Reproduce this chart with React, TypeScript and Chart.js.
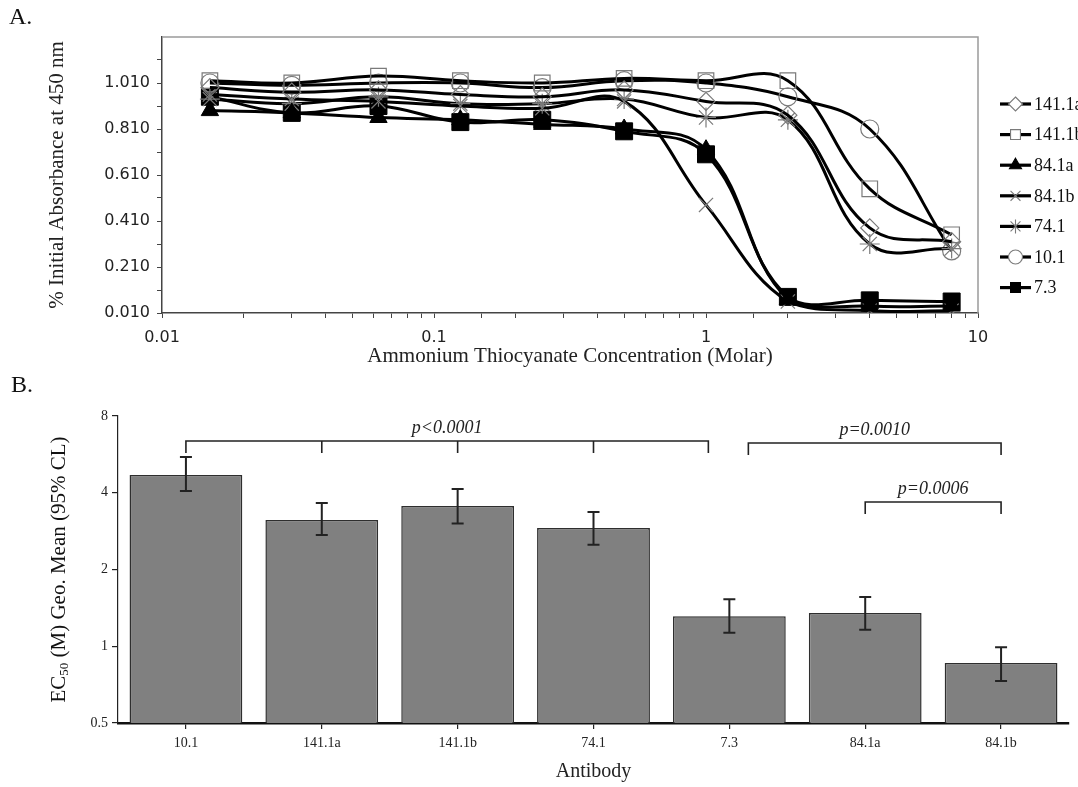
import React, { useEffect, useRef } from 'react';
import { Chart, registerables } from 'chart.js';

Chart.register(...registerables);

// ---------- Panel A data ----------
const concentrations = [0.015, 0.03, 0.0625, 0.125, 0.25, 0.5, 1, 2, 4, 8];
const seriesNames = ['141.1a', '141.1b', '84.1a', '84.1b', '74.1', '10.1', '7.3'];
const s141_1a = [0.99, 0.97, 0.98, 0.96, 0.95, 0.98, 0.93, 0.87, 0.38, 0.32];
const s141_1b = [1.02, 1.01, 1.04, 1.02, 1.01, 1.03, 1.02, 1.02, 0.55, 0.35];
const s84_1a = [0.89, 0.88, 0.86, 0.85, 0.83, 0.81, 0.72, 0.07, 0.04, 0.04];
const s84_1b = [0.96, 0.94, 0.93, 0.91, 0.9, 0.93, 0.48, 0.06, 0.02, 0.02];
const s74_1 = [0.94, 0.92, 0.95, 0.92, 0.92, 0.94, 0.86, 0.85, 0.31, 0.29];
const s10_1 = [1.01, 1.0, 1.01, 1.01, 0.99, 1.02, 1.01, 0.95, 0.81, 0.28];
const s7_3 = [0.95, 0.88, 0.91, 0.84, 0.85, 0.8, 0.7, 0.08, 0.065, 0.06];
const seriesValues = [s141_1a, s141_1b, s84_1a, s84_1b, s74_1, s10_1, s7_3];
const yTicksA = [0.01, 0.11, 0.21, 0.31, 0.41, 0.51, 0.61, 0.71, 0.81, 0.91, 1.01, 1.11];

// ---------- Panel B data ----------
const antibodies = ['10.1', '141.1a', '141.1b', '74.1', '7.3', '84.1a', '84.1b'];
const ec50 = [4.7, 3.13, 3.55, 2.91, 1.31, 1.35, 0.86];
const ciLow = [4.06, 2.73, 3.03, 2.5, 1.13, 1.16, 0.73];
const ciHigh = [5.53, 3.65, 4.14, 3.36, 1.53, 1.56, 0.99];
const yTicksB = [0.5, 1, 2, 4, 8];
const bracketLabels = ['p<0.0001', 'p=0.0010', 'p=0.0006'];
const bracketFrom = ['10.1', '7.3', '84.1a'];
const bracketTo = ['7.3', '84.1b', '84.1b'];
const bracketMids = [['141.1a', '141.1b', '74.1'], [], []];

// ---------- styles ----------
const markerStyles = ['rectRot', 'rect', 'triangle', 'crossRot', 'star', 'circle', 'rect'];
const markerRadius = [9, 11, 10, 10, 10, 9, 12];
const markerFilled = [false, false, true, false, false, false, true];
const SERIF = "'Liberation Serif', 'Times New Roman', serif";
const SANS = "'DejaVu Sans', Verdana, sans-serif";

function drawMarker(ctx: CanvasRenderingContext2D, style: string, x: number, y: number, r: number, fill: string, stroke: string, lw: number) {
  ctx.save();
  ctx.beginPath();
  ctx.lineWidth = lw;
  ctx.strokeStyle = stroke;
  ctx.fillStyle = fill;
  let closed = true;
  const d = r * Math.SQRT1_2;
  switch (style) {
    case 'circle':
      ctx.arc(x, y, r, 0, Math.PI * 2);
      break;
    case 'rect':
      ctx.rect(x - d, y - d, 2 * d, 2 * d);
      break;
    case 'rectRot':
      ctx.moveTo(x, y - r);
      ctx.lineTo(x + r, y);
      ctx.lineTo(x, y + r);
      ctx.lineTo(x - r, y);
      ctx.closePath();
      break;
    case 'triangle':
      ctx.moveTo(x, y - r);
      ctx.lineTo(x + r * 0.866, y + r * 0.5);
      ctx.lineTo(x - r * 0.866, y + r * 0.5);
      ctx.closePath();
      break;
    case 'crossRot':
      closed = false;
      ctx.moveTo(x - d, y - d);
      ctx.lineTo(x + d, y + d);
      ctx.moveTo(x + d, y - d);
      ctx.lineTo(x - d, y + d);
      break;
    case 'star':
      closed = false;
      ctx.moveTo(x - d, y - d);
      ctx.lineTo(x + d, y + d);
      ctx.moveTo(x + d, y - d);
      ctx.lineTo(x - d, y + d);
      ctx.moveTo(x, y - r);
      ctx.lineTo(x, y + r);
      break;
  }
  if (closed) ctx.fill();
  ctx.stroke();
  ctx.restore();
}

const panelAPlugin = {
  id: 'panelAExtras',
  afterDraw(chart: any) {
    const { ctx, chartArea } = chart;
    const { left, top, right, bottom } = chartArea;
    ctx.save();
    // gray frame top and right
    ctx.strokeStyle = '#9a9a9a';
    ctx.lineWidth = 1.5;
    ctx.beginPath();
    ctx.moveTo(left, top);
    ctx.lineTo(right, top);
    ctx.lineTo(right, bottom);
    ctx.stroke();
    // panel label
    ctx.fillStyle = '#111';
    ctx.font = `24px ${SERIF}`;
    ctx.textBaseline = 'middle';
    ctx.textAlign = 'left';
    ctx.fillText('A.', 9, 18);
    // legend
    const lx0 = right + 22;
    const lx1 = right + 53;
    ctx.font = `18px ${SERIF}`;
    seriesNames.forEach((name, i) => {
      const y = 104 + i * 30.6;
      ctx.strokeStyle = '#000';
      ctx.lineWidth = 3.2;
      ctx.beginPath();
      ctx.moveTo(lx0, y);
      ctx.lineTo(lx1, y);
      ctx.stroke();
      const filled = markerFilled[i];
      drawMarker(ctx, markerStyles[i], (lx0 + lx1) / 2, y, 7, filled ? '#000' : '#fff', filled ? '#000' : '#7a7a7a', 1.1);
      ctx.fillStyle = '#111';
      ctx.textAlign = 'left';
      ctx.fillText(name, lx1 + 3, y + 1);
    });
    ctx.restore();
  },
};

const panelBPlugin = {
  id: 'panelBExtras',
  afterDatasetsDraw(chart: any) {
    const { ctx } = chart;
    const xs = chart.scales.x;
    const ys = chart.scales.y;
    ctx.save();
    ctx.strokeStyle = '#222';
    ctx.lineWidth = 2;
    antibodies.forEach((_, i) => {
      const x = xs.getPixelForValue(i);
      const yl = ys.getPixelForValue(ciLow[i]);
      const yh = ys.getPixelForValue(ciHigh[i]);
      ctx.beginPath();
      ctx.moveTo(x, yl);
      ctx.lineTo(x, yh);
      ctx.moveTo(x - 6, yl);
      ctx.lineTo(x + 6, yl);
      ctx.moveTo(x - 6, yh);
      ctx.lineTo(x + 6, yh);
      ctx.stroke();
    });
    ctx.restore();
  },
  afterDraw(chart: any) {
    const { ctx, chartArea } = chart;
    const xs = chart.scales.x;
    const px = (name: string) => xs.getPixelForValue(antibodies.indexOf(name));
    const lineY = [chartArea.top + 25, chartArea.top + 27, chartArea.top + 86];
    const shifts = [[0, -21], [19, 0], [0, 0]];
    const drop = 12;
    ctx.save();
    ctx.strokeStyle = '#222';
    ctx.lineWidth = 1.6;
    ctx.fillStyle = '#222';
    ctx.font = `italic 18px ${SERIF}`;
    ctx.textAlign = 'center';
    ctx.textBaseline = 'alphabetic';
    bracketLabels.forEach((label, i) => {
      const x0 = px(bracketFrom[i]) + shifts[i][0];
      const x1 = px(bracketTo[i]) + shifts[i][1];
      const y = lineY[i];
      ctx.beginPath();
      ctx.moveTo(x0, y + drop);
      ctx.lineTo(x0, y);
      ctx.lineTo(x1, y);
      ctx.lineTo(x1, y + drop);
      bracketMids[i].forEach((m) => {
        const xm = px(m);
        ctx.moveTo(xm, y);
        ctx.lineTo(xm, y + drop);
      });
      ctx.stroke();
      ctx.fillText(label, (x0 + x1) / 2, y - 8);
    });
    // y title with subscript
    const cy = (chartArea.top + chartArea.bottom) / 2;
    ctx.translate(58, cy);
    ctx.rotate(-Math.PI / 2);
    ctx.textAlign = 'left';
    const big = `21px ${SERIF}`;
    const small = `13px ${SERIF}`;
    const p1 = 'EC';
    const p2 = '50';
    const p3 = ' (M) Geo. Mean (95% CL)';
    ctx.font = big;
    const w1 = ctx.measureText(p1).width;
    const w3 = ctx.measureText(p3).width;
    ctx.font = small;
    const w2 = ctx.measureText(p2).width;
    let x = -(w1 + w2 + w3) / 2;
    ctx.fillStyle = '#111';
    ctx.font = big;
    ctx.fillText(p1, x, 7);
    x += w1;
    ctx.font = small;
    ctx.fillText(p2, x, 10);
    x += w2;
    ctx.font = big;
    ctx.fillText(p3, x, 7);
    ctx.restore();
    ctx.save();
    ctx.fillStyle = '#111';
    ctx.font = `24px ${SERIF}`;
    ctx.textBaseline = 'middle';
    ctx.fillText('B.', 11, 14);
    ctx.restore();
  },
};

function fmtLog(v: number) {
  const l = Math.log10(v);
  if (Math.abs(l - Math.round(l)) > 1e-6) return '';
  const r = Math.round(l);
  return r >= 0 ? Math.pow(10, r).toFixed(0) : Math.pow(10, r).toFixed(-r);
}

export default function App() {
  const refA = useRef<HTMLCanvasElement>(null);
  const refB = useRef<HTMLCanvasElement>(null);

  useEffect(() => {
    const datasets = seriesNames.map((name, i) => ({
      label: name,
      data: concentrations.map((c, j) => ({ x: c, y: seriesValues[i][j] })),
      borderColor: '#000',
      borderWidth: 3,
      tension: 0.4,
      fill: false,
      pointStyle: markerStyles[i],
      pointRadius: markerRadius[i],
      pointBackgroundColor: markerFilled[i] ? '#000' : 'rgba(0,0,0,0)',
      pointBorderColor: markerFilled[i] ? '#000' : '#7a7a7a',
      pointBorderWidth: markerFilled[i] ? 1 : 1.2,
    }));

    const chartA = new Chart(refA.current as HTMLCanvasElement, {
      type: 'line',
      data: { datasets } as any,
      options: {
        animation: false,
        responsive: false,
        layout: { padding: { left: 0, top: 37, right: 100, bottom: 0 } },
        plugins: { legend: { display: false }, tooltip: { enabled: false } },
        scales: {
          x: {
            type: 'logarithmic',
            min: 0.01,
            max: 10,
            grid: { drawOnChartArea: false, drawTicks: true, tickLength: 5, color: '#444', lineWidth: 1 },
            border: { display: true, color: '#444', width: 1.5 },
            ticks: {
              autoSkip: false,
              maxRotation: 0,
              padding: 10,
              color: '#222',
              font: { family: SANS, size: 16 },
              callback: (v: any) => fmtLog(Number(v)),
            },
            title: {
              display: true,
              text: 'Ammonium Thiocyanate Concentration (Molar)',
              color: '#222',
              font: { family: SERIF, size: 21 },
              padding: { top: 0, bottom: 3 },
            },
            afterFit: (s: any) => { s.height = 59; },
          },
          y: {
            type: 'linear',
            min: 0.01,
            max: 1.21,
            afterBuildTicks: (s: any) => { s.ticks = yTicksA.map((v) => ({ value: v })); },
            grid: { drawOnChartArea: false, drawTicks: true, tickLength: 5, color: '#444', lineWidth: 1 },
            border: { display: true, color: '#444', width: 1.5 },
            ticks: {
              autoSkip: false,
              padding: 7,
              color: '#222',
              font: { family: SANS, size: 16 },
              callback: (v: any, idx: number) => (idx % 2 === 0 ? Number(v).toFixed(3) : ''),
            },
            title: {
              display: true,
              text: '% Initial Absorbance at 450 nm',
              color: '#222',
              font: { family: SERIF, size: 21 },
              padding: { top: 45, bottom: 0 },
            },
            afterFit: (s: any) => { s.width = 162; },
          },
        },
      } as any,
      plugins: [panelAPlugin],
    });

    const chartB = new Chart(refB.current as HTMLCanvasElement, {
      type: 'bar',
      data: {
        labels: antibodies,
        datasets: [
          {
            label: 'EC50',
            data: ec50,
            backgroundColor: '#808080',
            borderColor: '#2e2e2e',
            borderWidth: 1.5,
            barPercentage: 0.83,
            categoryPercentage: 1.0,
          },
        ],
      },
      options: {
        animation: false,
        responsive: false,
        layout: { padding: { left: 0, top: 44, right: 9, bottom: 0 } },
        plugins: { legend: { display: false }, tooltip: { enabled: false } },
        scales: {
          x: {
            type: 'category',
            offset: true,
            grid: { offset: false, drawOnChartArea: false, drawTicks: true, tickLength: 6, color: '#222', lineWidth: 1.2 },
            border: { display: true, color: '#111', width: 2.5 },
            ticks: { padding: 6, color: '#222', font: { family: SERIF, size: 14 }, maxRotation: 0, autoSkip: false },
            title: {
              display: true,
              text: 'Antibody',
              color: '#222',
              font: { family: SERIF, size: 20 },
              padding: { top: 0, bottom: 3 },
            },
            afterFit: (s: any) => { s.height = 64; },
          },
          y: {
            type: 'logarithmic',
            min: 0.5,
            max: 8,
            afterBuildTicks: (s: any) => { s.ticks = yTicksB.map((v) => ({ value: v })); },
            grid: { drawOnChartArea: false, drawTicks: true, tickLength: 6, color: '#222', lineWidth: 1.2 },
            border: { display: true, color: '#222', width: 1.2 },
            ticks: {
              autoSkip: false,
              padding: 4,
              color: '#222',
              font: { family: SERIF, size: 14 },
              callback: (v: any) => String(Number(v)),
            },
            title: { display: false },
            afterFit: (s: any) => { s.width = 118; },
          },
        },
      } as any,
      plugins: [panelBPlugin],
    });

    return () => {
      chartA.destroy();
      chartB.destroy();
    };
  }, []);

  return (
    <div style={{ position: 'absolute', left: 0, top: 0, width: 1078, height: 787, background: '#fff', overflow: 'hidden' }}>
      <canvas ref={refA} width={1078} height={372} style={{ position: 'absolute', left: 0, top: 0, width: 1078, height: 372 }} />
      <canvas ref={refB} width={1078} height={415} style={{ position: 'absolute', left: 0, top: 372, width: 1078, height: 415 }} />
    </div>
  );
}
